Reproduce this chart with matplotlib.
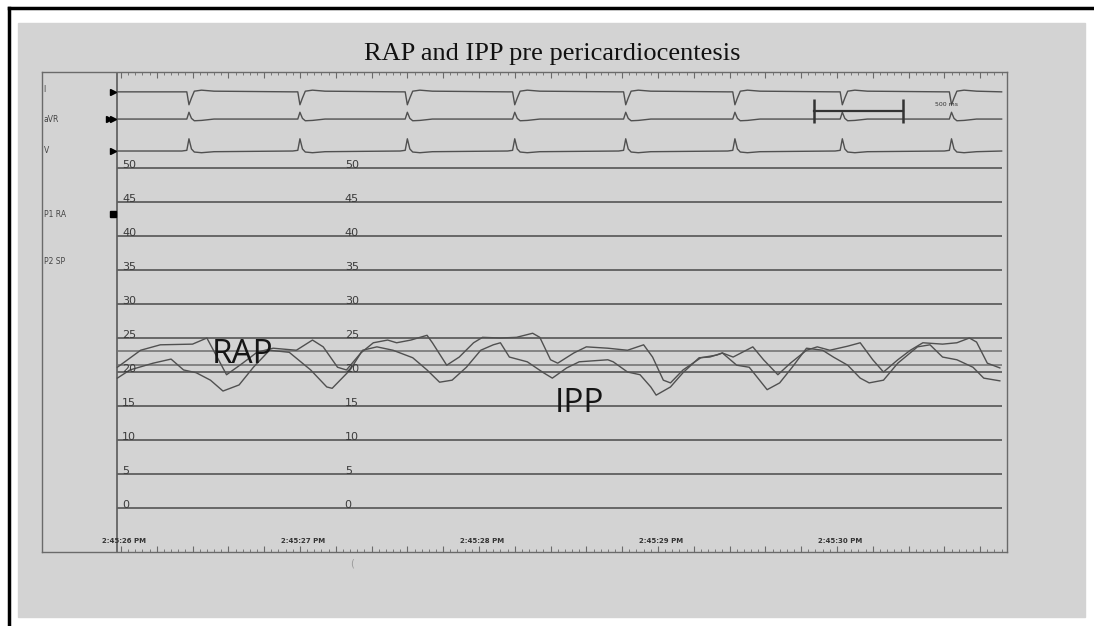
import numpy as np
import matplotlib.pyplot as plt
from matplotlib.patches import Rectangle
from matplotlib.ticker import FixedLocator

# --- data (time in s after 2:45:26 PM, pressure in mmHg) ---
title = "RAP and IPP pre pericardiocentesis"
time_labels = ["2:45:26 PM", "2:45:27 PM", "2:45:28 PM", "2:45:29 PM", "2:45:30 PM"]
pressure_ticks = [0, 5, 10, 15, 20, 25, 30, 35, 40, 45, 50]
ref_lines = [23.1, 21.0]

upper_t = [-0.02, 0.11, 0.22, 0.40, 0.48, 0.59, 0.68, 0.76,
           0.85, 0.98, 1.07, 1.13, 1.21, 1.26, 1.34, 1.41,
           1.49, 1.54, 1.62, 1.71, 1.74, 1.82, 1.89, 1.97,
           2.02, 2.12, 2.21, 2.30, 2.34, 2.40, 2.44, 2.53,
           2.60, 2.72, 2.83, 2.92, 2.97, 3.03, 3.07, 3.14,
           3.24, 3.33, 3.36, 3.42, 3.53, 3.59, 3.67, 3.74,
           3.83, 3.89, 3.96, 4.06, 4.13, 4.20, 4.26, 4.34,
           4.41, 4.48, 4.59, 4.67, 4.74, 4.78, 4.84, 4.91]
upper_p = [20.7, 23.2, 24.0, 24.1, 25.0, 19.6, 21.3, 22.9,
           23.5, 23.2, 24.7, 23.7, 20.7, 20.3, 22.8, 24.3,
           24.7, 24.3, 24.7, 25.4, 24.3, 21.0, 22.2, 24.3,
           25.1, 25.0, 25.1, 25.7, 25.1, 21.8, 21.3, 22.8,
           23.7, 23.5, 23.2, 24.0, 22.2, 18.8, 18.4, 20.3,
           22.1, 22.5, 22.8, 22.2, 23.7, 21.8, 19.6, 21.3,
           23.2, 23.7, 23.2, 23.8, 24.3, 21.8, 20.0, 21.8,
           23.2, 24.3, 24.1, 24.3, 25.0, 24.4, 21.3, 20.6]

lower_t = [-0.02, 0.05, 0.18, 0.28, 0.35, 0.42, 0.50, 0.57,
           0.66, 0.74, 0.83, 0.94, 1.06, 1.15, 1.18, 1.28,
           1.35, 1.43, 1.52, 1.63, 1.71, 1.78, 1.85, 1.93,
           2.01, 2.08, 2.12, 2.17, 2.27, 2.36, 2.41, 2.49,
           2.56, 2.72, 2.75, 2.83, 2.90, 2.96, 2.99, 3.07,
           3.14, 3.23, 3.29, 3.36, 3.44, 3.51, 3.61, 3.68,
           3.75, 3.83, 3.92, 3.98, 4.06, 4.13, 4.18, 4.26,
           4.34, 4.45, 4.52, 4.59, 4.67, 4.76, 4.82, 4.91]
lower_p = [19.1, 20.3, 21.3, 21.9, 20.3, 19.9, 18.8, 17.2,
           18.1, 20.7, 23.2, 22.9, 20.3, 17.8, 17.6, 20.3,
           23.2, 23.7, 23.2, 22.1, 20.3, 18.5, 18.8, 20.7,
           23.2, 24.0, 24.3, 22.2, 21.5, 19.9, 19.1, 20.6,
           21.5, 21.8, 21.5, 20.0, 19.6, 17.8, 16.6, 17.8,
           19.9, 22.1, 22.2, 22.8, 21.0, 20.7, 17.4, 18.4,
           20.7, 23.5, 23.2, 22.2, 21.0, 19.1, 18.4, 18.8,
           21.3, 23.7, 24.0, 22.2, 21.8, 20.7, 19.1, 18.7]

# ECG leads drawn above the pressure scale
beat_t = [0.38, 1.00, 1.60, 2.20, 2.82, 3.43, 4.03, 4.64]
qrs_dt = [-0.04, -0.012, 0.0, 0.014, 0.03, 0.07, 0.14]
lead_names = ["I", "aVR", "V"]
lead_base = [61.2, 57.2, 52.5]
lead_shapes = [[0.0, 0.0, -1.9, -0.9, 0.1, 0.25, 0.1],
               [0.0, 0.0, 1.0, 0.1, -0.25, -0.2, 0.0],
               [0.0, 0.1, 1.8, 0.3, -0.15, -0.25, -0.1]]
trace_start, trace_end = -0.02, 4.92
scale_start, scale_len = 3.87, 0.5

W, H = 1094, 626
grey = "#d3d3d3"
ink = "#505050"

fig = plt.figure(figsize=(W / 100, H / 100), dpi=100)
fig.patch.set_facecolor("white")
fig.add_artist(Rectangle((18 / W, 1 - 617 / H), (1085 - 18) / W, (617 - 23) / H,
                         transform=fig.transFigure, color=grey, zorder=0))
fig.add_artist(plt.Line2D([9 / W, 9 / W], [0, 1 - 8 / H], transform=fig.transFigure,
                          color="black", lw=2.5))
fig.add_artist(plt.Line2D([9 / W, 1], [1 - 8 / H, 1 - 8 / H], transform=fig.transFigure,
                          color="black", lw=2.5))

fig.text(552 / W, 1 - 54 / H, title, ha="center", va="center",
         family="Liberation Serif", fontsize=19, color="#111111")

ax = fig.add_axes([42 / W, 1 - 552 / H, 965 / W, 480 / H])
ax.set_facecolor(grey)
ax.set_xlim(-0.441, 4.950)
ax.set_ylim(-6.47, 64.12)
for s in ax.spines.values():
    s.set_color("#6a6a6a")
    s.set_linewidth(1)
ax.yaxis.set_visible(False)
ax.xaxis.set_major_locator(FixedLocator(np.arange(0, 4.95, 0.2)))
ax.xaxis.set_minor_locator(FixedLocator(np.arange(0, 4.95, 0.04)))
ax.tick_params(axis="x", which="both", direction="in", top=True, bottom=True,
               labelbottom=False, color="#6a6a6a")
ax.tick_params(axis="x", which="major", length=4, width=0.8)
ax.tick_params(axis="x", which="minor", length=2, width=0.6)

ax.axvline(trace_start, color="#5a5a5a", lw=1.2)

# pressure grid and its two rows of scale numbers
ax.hlines(pressure_ticks, trace_start, trace_end, color="#5e5e5e", lw=1.3)
ax.hlines(ref_lines, trace_start, trace_end, color="#6e6e6e", lw=1.1)
for p in pressure_ticks:
    for xt in (0.006, 1.25):
        ax.text(xt, p + 0.4, str(p), ha="left", va="center", fontsize=8,
                color="#3a3a3a")

ax.plot(upper_t, upper_p, color=ink, lw=1.0)
ax.plot(lower_t, lower_p, color=ink, lw=1.0)

# ECG leads
for base, shape in zip(lead_base, lead_shapes):
    xs, ys = [trace_start], [base]
    for b in beat_t:
        for dt, dv in zip(qrs_dt, shape):
            xs.append(b + dt)
            ys.append(base + dv)
    xs.append(trace_end)
    ys.append(base)
    ax.plot(xs, ys, color=ink, lw=1.0)
    ax.plot(-0.047, base, marker=">", ms=5, color="black", clip_on=False)
ax.plot(-0.065, lead_base[1], marker=">", ms=5, color="black")
ax.plot(-0.047, 43.3, marker="s", ms=4, color="black")

# left channel labels
for name, y in zip(lead_names + ["P1 RA", "P2 SP"], [61.6, 57.2, 52.6, 43.2, 36.3]):
    ax.text(-0.432, y, name, ha="left", va="center", fontsize=5.5, color="#444444")

# 500 ms scale bar
ax.plot([scale_start, scale_start + scale_len], [58.4, 58.4], color="#333333", lw=1.6)
ax.vlines([scale_start, scale_start + scale_len], 56.6, 60.1, color="#333333", lw=1.8)
ax.text(4.55, 59.4, "500 ms", fontsize=4.5, color="#333333", va="center")

# time stamps
for i, lab in enumerate(time_labels):
    ax.text(i + 0.015, -4.85, lab, ha="center", va="center", fontsize=5,
            fontweight="bold", color="#333333")

# annotations pasted onto the scan
ax.text(0.508, 21.3, "RAP", fontsize=24, family="Open Sans", color="#151515",
        va="baseline", ha="left")
ax.text(2.425, 14.1, "IPP", fontsize=24, family="Open Sans", color="#151515",
        va="baseline", ha="left")
fig.text(352 / W, 1 - 563 / H, "(", fontsize=7, color="#9a9a9a", ha="center", va="center")

fig.savefig("out.png", dpi=100)
